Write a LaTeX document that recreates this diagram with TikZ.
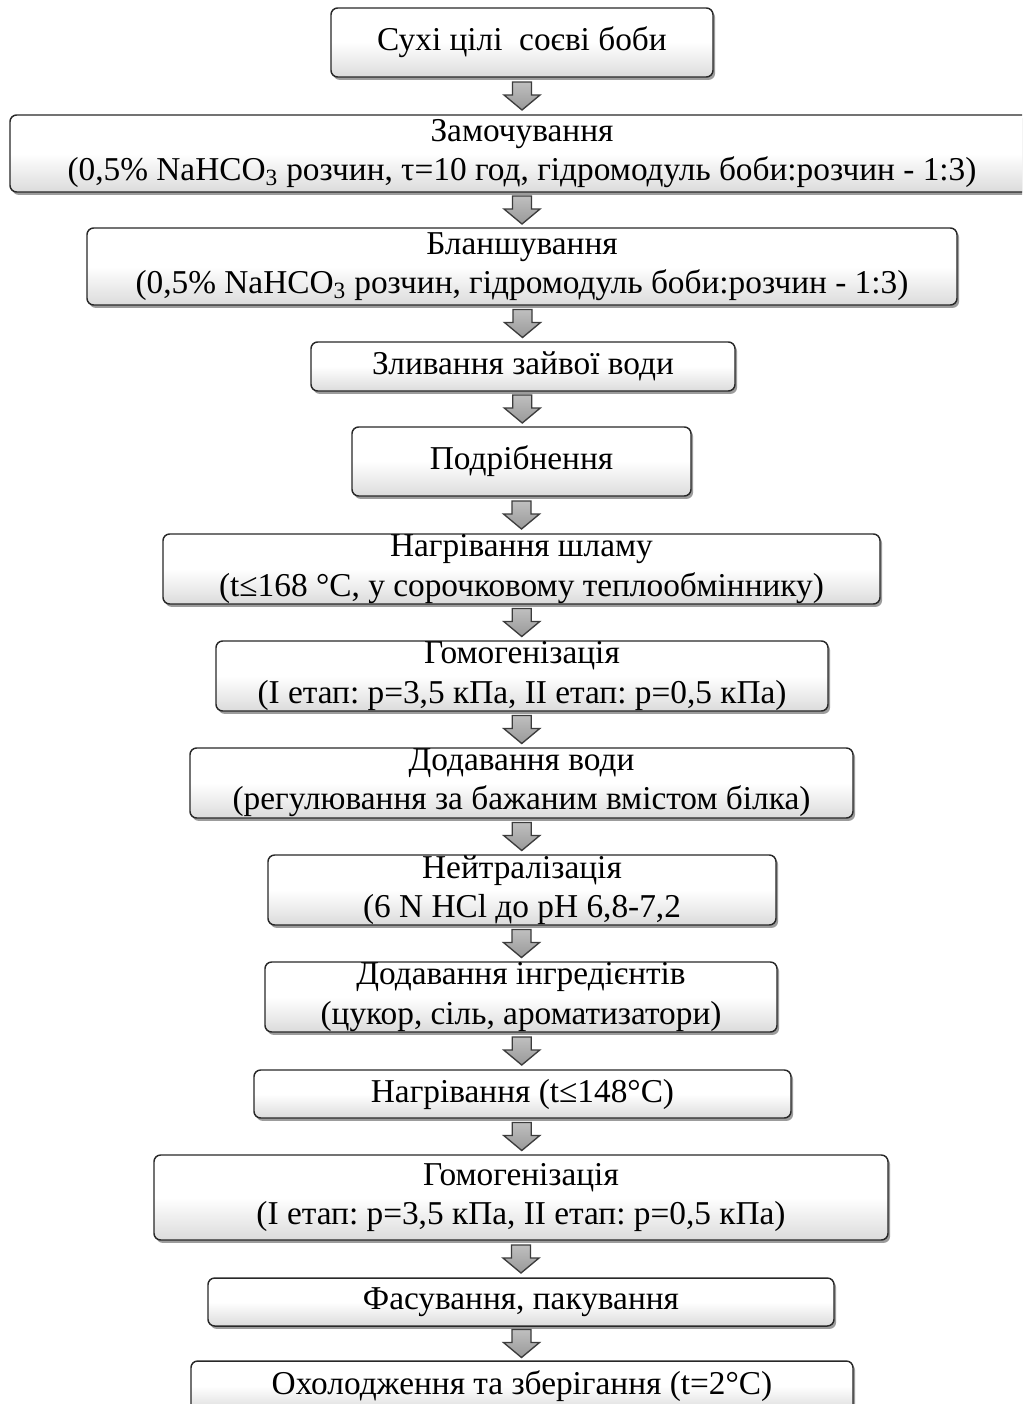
\documentclass[tikz,border=0pt]{standalone}
\usepackage{fontspec}
\setmainfont{Liberation Serif}
\usetikzlibrary{shadows,calc}

\tikzset{every picture/.style={line width=0.75pt}}
\tikzset{
  stage/.style={draw={rgb,255:red,40;green,40;blue,40}, line width=1.1pt, rounded corners=5pt,
    top color=white, bottom color=black!14, middle color=white,
    drop shadow={shadow xshift=1.6pt, shadow yshift=-2.2pt, fill=black!70, opacity=0.55},
    align=center, inner sep=0pt, font=\fontsize{25}{29.5}\selectfont},
  boxsize/.style 2 args={minimum width=#1*0.75pt, minimum height=#2*0.75pt},
  flowarrow/.style={draw={rgb,255:red,60;green,60;blue,60}, line width=1pt,
    top color=black!25, bottom color=black!40}
}
% block arrow half way between two stages
\newcommand{\flowdown}[2]{%
  \path ($(#1.south)!0.5!(#2.north)$) coordinate (#1-#2);
  \draw[flowarrow] (#1-#2) ++(-9.5,-14) -- ++(19,0) -- ++(0,13) -- ++(8.5,0) -- ++(-18,15) -- ++(-18,-15) -- ++(8.5,0) -- cycle ;}

\begin{document}
\begin{tikzpicture}[x=0.75pt,y=0.75pt,yscale=-1,xscale=1]
\clip (0,0) rectangle (1022,1404);
\fill[white] (0,0) rectangle (1022,1404);

%Stages
\node[stage, boxsize={382}{69}] (beans) at (522,42.5) {Сухі цілі\ \ соєві боби};
\node[stage, boxsize={1024}{77}] (soaking) at (522,153.5) {Замочування\\(0,5\% NaHCO\textsubscript{3} розчин, τ=10 год, гідромодуль боби:розчин - 1:3)};
\node[stage, boxsize={870}{77}] (blanching) at (522,266.5) {Бланшування\\(0,5\% NaHCO\textsubscript{3} розчин, гідромодуль боби:розчин - 1:3)};
\node[stage, boxsize={424}{49}] (draining) at (523,366.5) {Зливання зайвої води};
\node[stage, boxsize={339}{69}] (grinding) at (521.5,461.5) {Подрібнення};
\node[stage, boxsize={717}{70}] (slurry) at (521.5,569) {Нагрівання шламу\\(t≤168 °C, у сорочковому теплообміннику)};
\node[stage, boxsize={612}{70}] (homog) at (522,676) {Гомогенізація\\(I етап:\ p=3,5 кПа, II етап:\ p=0,5 кПа)};
\node[stage, boxsize={663}{70}] (water) at (521.5,783) {Додавання води\\(регулювання за бажаним вмістом білка)};
\node[stage, boxsize={508}{70}] (neutral) at (522,890) {Нейтралізація\\(6 N HCl до pH 6,8-7,2};
\node[stage, boxsize={512}{70}] (ingred) at (521,997) {Додавання інгредієнтів\\(цукор, сіль, ароматизатори)};
\node[stage, boxsize={537}{48}] (heating) at (522.5,1094) {Нагрівання (t≤148°C)};
\node[stage, boxsize={734}{85}] (homogtwo) at (521,1197.5) {Гомогенізація\\(I етап:\ p=3,5 кПа, II етап:\ p=0,5 кПа)};
\node[stage, boxsize={626}{48}] (packing) at (521,1302) {Фасування, пакування};
\node[stage, boxsize={662}{50}] (cooling) at (522,1386) {Охолодження та зберігання (t=2°C)};

%Arrows
\flowdown{beans}{soaking}
\flowdown{soaking}{blanching}
\flowdown{blanching}{draining}
\flowdown{draining}{grinding}
\flowdown{grinding}{slurry}
\flowdown{slurry}{homog}
\flowdown{homog}{water}
\flowdown{water}{neutral}
\flowdown{neutral}{ingred}
\flowdown{ingred}{heating}
\flowdown{heating}{homogtwo}
\flowdown{homogtwo}{packing}
\flowdown{packing}{cooling}

\end{tikzpicture}
\end{document}
